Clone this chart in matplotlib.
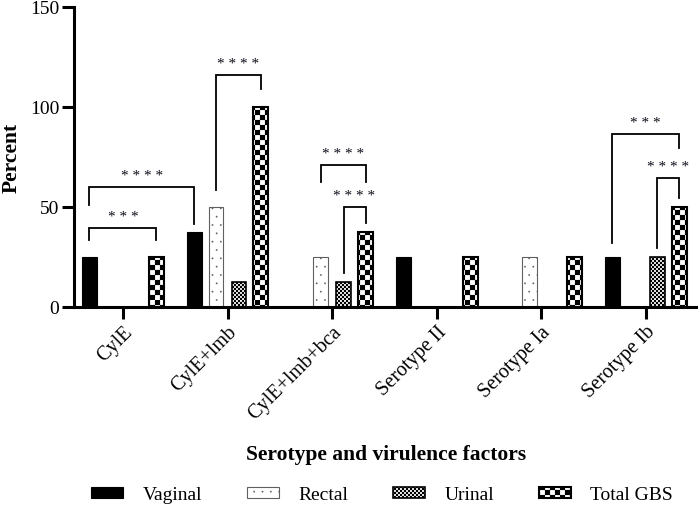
import numpy as np
import matplotlib
matplotlib.use("Agg")
import matplotlib.pyplot as plt
import matplotlib.hatch as mhatch
import matplotlib.transforms as mtrans
from matplotlib.path import Path
from matplotlib.patches import Patch

# ---------------- data ----------------
categories = ["CylE", "CylE+lmb", "CylE+lmb+bca", "Serotype II", "Serotype Ia", "Serotype Ib"]
series_names = ["Vaginal", "Rectal", "Urinal", "Total GBS"]
vaginal = [25, 37.5, 0, 25, 0, 25]
rectal = [0, 50, 25, 0, 25, 0]
urinal = [0, 12.5, 12.5, 0, 0, 25]
total_gbs = [25, 100, 37.5, 25, 25, 50]
y_ticks = [0, 50, 100, 150]

# significance brackets: (group_a, series_a, group_b, series_b, left_end, top, right_end, label)
brackets = [
    (0, 0, 0, 3, 33.5, 39.5, 33.5, "* * *"),
    (0, 0, 1, 0, 51, 60, 41.5, "* * * *"),
    (1, 1, 1, 3, 58.5, 116, 109, "* * * *"),
    (2, 1, 2, 3, 62.5, 71, 62.5, "* * * *"),
    (2, 2, 2, 3, 17, 50, 42, "* * * *"),
    (5, 0, 5, 3, 32, 86.5, 79.5, "* * *"),
    (5, 2, 5, 3, 29.5, 64.5, 54.5, "* * * *"),
]

# ---------------- custom checker hatches ----------------
class _Checker(mhatch.HatchPatternBase):
    char = "*"
    cells = 20

    def __init__(self, hatch, density):
        self.n = self.cells if (hatch and self.char in hatch) else 0
        self.num_vertices = (self.n * self.n // 2) * 5

    def set_vertices_and_codes(self, vertices, codes):
        n = self.n
        s = 1.0 / n
        k = 0
        for i in range(n):
            for j in range(n):
                if (i + j) % 2 == 0:
                    x0, y0 = i * s, j * s
                    vertices[k:k + 5] = [[x0, y0], [x0 + s, y0], [x0 + s, y0 + s],
                                         [x0, y0 + s], [x0, y0]]
                    codes[k:k + 5] = [Path.MOVETO, Path.LINETO, Path.LINETO,
                                      Path.LINETO, Path.CLOSEPOLY]
                    k += 5


class CoarseChecker(_Checker):
    char = "*"
    cells = 20


class FineChecker(_Checker):
    char = "O"
    cells = 50


mhatch._hatch_types = [t for t in mhatch._hatch_types
                       if t.__name__ not in ("Stars", "LargeCircles")] + [CoarseChecker, FineChecker]

plt.rcParams["font.family"] = ["Liberation Serif", "DejaVu Serif"]
plt.rcParams["hatch.linewidth"] = 0.1

# ---------------- figure ----------------
W, H = 698, 507
fig = plt.figure(figsize=(W / 100, H / 100), dpi=100)
ax = fig.add_axes([74 / W, 1 - 307 / H, (697 - 74) / W, 300 / H])

x = np.arange(len(categories))
bw = 0.143
offsets = [-0.32, -0.11, 0.11, 0.32]
styles = [
    dict(color="black", edgecolor="black", linewidth=0.8),
    dict(facecolor="white", edgecolor="#606060", hatch="..", linewidth=0.8),
    dict(facecolor="white", edgecolor="black", hatch="O", linewidth=1.2),
    dict(facecolor="white", edgecolor="black", hatch="*", linewidth=1.5),
]
all_vals = [vaginal, rectal, urinal, total_gbs]
for vals, off, st, name in zip(all_vals, offsets, styles, series_names):
    ax.bar(x + off, vals, width=bw, label=name, zorder=2, **st)

# brackets
for ga, sa, gb, sb, yl, top, yr, lab in brackets:
    xa = x[ga] + offsets[sa]
    xb = x[gb] + offsets[sb]
    ax.plot([xa, xa, xb, xb], [yl, top, top, yr], color="black", lw=1.3,
            solid_joinstyle="miter", zorder=3)
    ax.text((xa + xb) / 2, top + 3.5, lab, ha="center", va="baseline",
            fontsize=11, color="#0d0d1a")

ax.set_xlim(-0.468, 5.49)
ax.set_ylim(0, 150)
ax.set_yticks(y_ticks)
ax.set_yticklabels([str(v) for v in y_ticks], fontsize=14)
ax.set_xticks(x)
ax.set_xticklabels(categories, fontsize=14.5, rotation=45, ha="right",
                   rotation_mode="anchor")
shift = mtrans.ScaledTranslation(7 / 100, -11 / 100, fig.dpi_scale_trans)
for lbl in ax.get_xticklabels():
    lbl.set_transform(lbl.get_transform() + shift)

for side in ("top", "right"):
    ax.spines[side].set_visible(False)
for side in ("left", "bottom"):
    ax.spines[side].set_linewidth(2.2)
ax.tick_params(axis="both", width=2.2, length=8.5, direction="out")
ax.tick_params(axis="y", pad=2)
ax.tick_params(axis="x", pad=3)

fig.text(12 / W, 1 - 158 / H, "Percent", rotation=90, ha="center", va="center",
         fontsize=15.5, fontweight="bold")
fig.text(386 / W, 1 - 455 / H, "Serotype and virulence factors", ha="center",
         va="center", fontsize=15.5, fontweight="bold")

handles = [Patch(label=n, **st) for n, st in zip(series_names, styles)]
fig.legend(handles=handles, loc="center", bbox_to_anchor=(382 / W, 1 - 495 / H),
           ncol=4, frameon=False, fontsize=14, handlelength=1.65,
           handleheight=0.55, handletextpad=1.0, columnspacing=2.3,
           borderpad=0, borderaxespad=0)

fig.savefig("out.png", dpi=100)
